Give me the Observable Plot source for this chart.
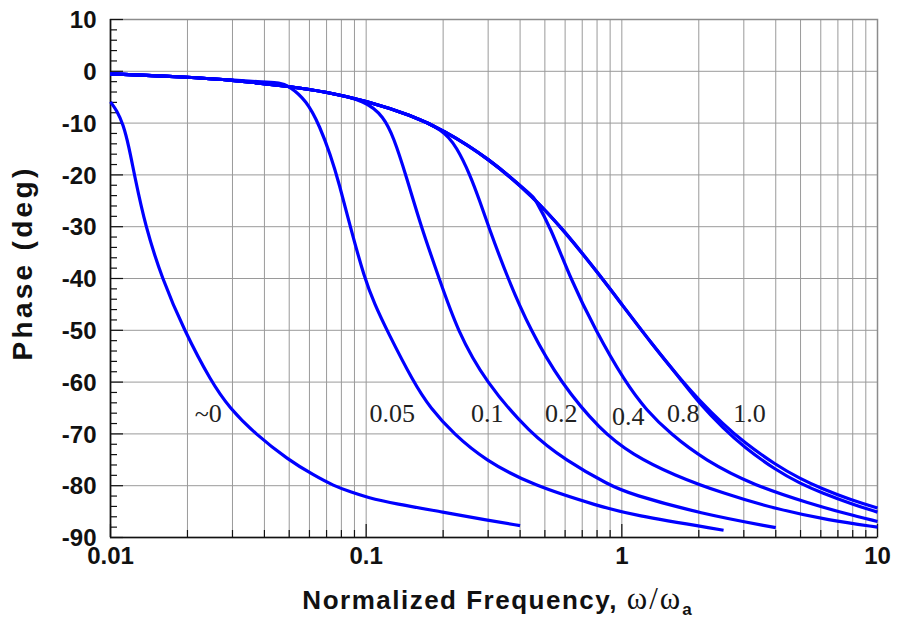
<!DOCTYPE html>
<html>
<head>
<meta charset="utf-8">
<script src="https://cdn.jsdelivr.net/npm/d3@7"></script>
<script src="https://cdn.jsdelivr.net/npm/@observablehq/plot@0.6"></script>
<style>
  html, body { margin: 0; padding: 0; background: #ffffff; }
  #chart { width: 898px; height: 620px; }
</style>
</head>
<body>
<div id="chart"></div>
<script>
// Phase response versus normalized frequency ω/ωa, one curve per parameter value.

// Axis tick values
const xTickValues = [0.01, 0.1, 1, 10];
const xTickLabels = ["0.01", "0.1", "1", "10"];
const yTickValues = [10, 0, -10, -20, -30, -40, -50, -60, -70, -80, -90];

// Common upper curve (parameter 1.0)
const envelopeFreq  = [0.01, 0.02, 0.03, 0.05, 0.07, 0.1, 0.15, 0.2, 0.3, 0.45, 0.6, 0.8, 1.0, 1.3, 1.7, 2.0, 2.5, 3, 4, 5, 6, 8, 10];
const envelopePhase = [-0.5, -1.1, -1.7, -2.9, -4.0, -5.7, -8.5, -11.3, -16.7, -24.2, -31.0, -38.7, -45.0, -52.4, -59.5, -63.4, -68.2, -71.6, -76.0, -78.7, -80.5, -82.9, -84.3];

// Parameter ~0
const c0Freq  = [0.01, 0.0106, 0.0112, 0.0118, 0.0124, 0.0137, 0.0159, 0.0194, 0.0248, 0.0292, 0.0368, 0.0496, 0.0625, 0.0745, 0.088, 0.1, 0.13, 0.2, 0.3, 0.4];
const c0Phase = [-5.9, -7.6, -10.2, -14.5, -20, -30, -40, -50, -60, -65, -70, -75, -78, -80, -81.3, -82.2, -83.5, -85.1, -86.7, -87.7];

// Parameter 0.05 (branch after leaving the upper curve)
const c005Freq  = [0.04, 0.046, 0.0495, 0.0585, 0.0661, 0.0723, 0.0785, 0.0866, 0.0986, 0.108, 0.1205, 0.153, 0.178, 0.22, 0.29, 0.45, 0.824, 1.08, 2.5];
const c005Phase = [-2.1, -2.2, -2.7, -5.6, -10.8, -16, -21.7, -30, -40, -45, -50, -60, -65, -70, -75, -80, -84, -85.6, -88.6];

// Parameter 0.1
const c01Freq  = [0.1, 0.117, 0.128, 0.143, 0.164, 0.193, 0.227, 0.293, 0.44, 0.6, 0.9, 1.08, 2.03, 4.0];
const c01Phase = [-5.7, -8.8, -12.7, -20, -30, -40, -50, -60, -70, -75, -80, -81.6, -85.4, -88.1];

// Parameter 0.2
const c02Freq  = [0.2, 0.226, 0.255, 0.278, 0.301, 0.358, 0.439, 0.574, 0.824, 1.1, 1.6, 2.5, 4.0, 6.5, 10];
const c02Phase = [-11.3, -14.6, -20, -25, -30, -40, -50, -60, -69.3, -74, -78, -81.5, -84.5, -86.7, -88.0];

// Parameter 0.4
const c04Freq  = [0.454, 0.525, 0.629, 0.788, 1.03, 1.25, 1.55, 2.1, 3.3, 5.5, 7.5, 10];
const c04Phase = [-24.4, -30, -40, -50, -60, -65.5, -70, -75, -80, -83.5, -85.4, -86.9];

// Parameter 0.8
const c08Freq  = [1.7, 2.0, 2.5, 3, 4, 5, 6, 8, 10];
const c08Phase = [-59.5, -64.0, -69.0, -72.5, -77.0, -79.6, -81.3, -83.6, -85.1];

// Curve labels
const labelText  = ["~0", "0.05", "0.1", "0.2", "0.4", "0.8", "1.0"];
const labelFreq  = [0.0241, 0.1264, 0.2976, 0.58, 1.06, 1.74, 3.16];
const labelPhase = [-66, -66, -66, -66, -66.6, -66, -66];

// One table of points; each branch is joined to the upper curve below its start
function branch(name, freq, phase, joinEnvelope) {
  const rows = [];
  if (joinEnvelope) {
    envelopeFreq.forEach((f, i) => { if (f < freq[0]) rows.push({curve: name, freq: f, phase: envelopePhase[i]}); });
  }
  freq.forEach((f, i) => rows.push({curve: name, freq: f, phase: phase[i]}));
  return rows;
}
const rows = [
  ...branch("~0", c0Freq, c0Phase, false),
  ...branch("0.05", c005Freq, c005Phase, true),
  ...branch("0.1", c01Freq, c01Phase, true),
  ...branch("0.2", c02Freq, c02Phase, true),
  ...branch("0.4", c04Freq, c04Phase, true),
  ...branch("0.8", c08Freq, c08Phase, true),
  ...branch("1.0", envelopeFreq, envelopePhase, false)
];
const labels = labelText.map((t, i) => ({text: t, freq: labelFreq[i], phase: labelPhase[i]}));

// Grid positions: 1..9 in every decade
const decades = [0.01, 0.1, 1];
const gridFreq = decades.flatMap(d => d3.range(1, 10).map(m => +(m * d).toPrecision(3))).concat([10]);
const majorFreq = xTickValues;
const minorFreq = gridFreq.filter(f => !majorFreq.includes(f));
const gridPhase = yTickValues;
const minorPhase = d3.range(-90, 11, 2).filter(v => v % 10 !== 0);

const W = 898, H = 620;
const mL = 110, mR = 21, mT = 19, mB = 83;
const innerW = W - mL - mR, innerH = H - mT - mB;
const sans = "'Liberation Sans', Arial, Helvetica, sans-serif";
const serif = "'Liberation Serif', 'Times New Roman', serif";

const chart = Plot.plot({
  width: W,
  height: H,
  marginLeft: mL,
  marginRight: mR,
  marginTop: mT,
  marginBottom: mB,
  style: {fontFamily: sans, background: "#ffffff", overflow: "visible"},
  x: {type: "log", domain: [0.01, 10], axis: null},
  y: {domain: [-90, 10], axis: null},
  marks: [
    Plot.ruleX(gridFreq, {x: d => d, stroke: "#9a9a9a", strokeWidth: 1}),
    Plot.ruleY(gridPhase, {y: d => d, stroke: "#9a9a9a", strokeWidth: 1}),
    Plot.frame({stroke: "#8c8c8c", strokeWidth: 1.5}),
    // inward ticks
    Plot.tickY(minorPhase, {y: d => d, stroke: "#111", strokeWidth: 1.2, insetRight: innerW - 7}),
    Plot.tickY(gridPhase, {y: d => d, stroke: "#111", strokeWidth: 1.2, insetRight: innerW - 13}),
    Plot.tickX(minorFreq, {x: d => d, stroke: "#111", strokeWidth: 1.2, insetTop: innerH - 7}),
    Plot.tickX(majorFreq, {x: d => d, stroke: "#111", strokeWidth: 1.2, insetTop: innerH - 13}),
    // left and bottom axis lines
    Plot.ruleX([0.01], {x: d => d, stroke: "#111", strokeWidth: 1.6}),
    Plot.ruleY([-90], {y: d => d, stroke: "#111", strokeWidth: 1.6}),
    // tick labels
    Plot.text(yTickValues, {y: d => d, text: d => String(d), frameAnchor: "left", textAnchor: "end", dx: -14, dy: 1,
      fontSize: 24, fontWeight: "bold", fill: "#111"}),
    Plot.text(xTickValues, {x: d => d, text: (d, i) => xTickLabels[i], frameAnchor: "bottom", dy: 26,
      fontSize: 24, fontWeight: "bold", fill: "#111"}),
    // curves
    Plot.line(rows, {x: "freq", y: "phase", z: "curve", stroke: "#0000ff", strokeWidth: 3.2, curve: "basis",
      strokeLinejoin: "round", strokeLinecap: "butt"}),
    // curve labels
    Plot.text(labels, {x: "freq", y: "phase", text: "text", fontFamily: serif, fontSize: 26, fill: "#222"})
  ]
});

document.getElementById("chart").appendChild(chart);
const svg = d3.select(chart);

// y axis title
svg.append("text")
  .attr("transform", "translate(22,263) rotate(-90)")
  .attr("text-anchor", "middle")
  .attr("dominant-baseline", "central")
  .attr("font-family", sans).attr("font-weight", "bold").attr("font-size", 28)
  .attr("letter-spacing", 3.3)
  .attr("fill", "#111")
  .text("Phase (deg)");

// x axis title with a serif ω/ωa and subscript
const title = svg.append("text")
  .attr("x", 497).attr("y", 609)
  .attr("text-anchor", "middle")
  .attr("fill", "#111");
title.append("tspan").text("Normalized Frequency, ")
  .attr("font-family", sans).attr("font-weight", "bold").attr("font-size", 26)
  .attr("letter-spacing", 1.5);
title.append("tspan").text("ω/ω")
  .attr("font-family", serif).attr("font-size", 31).attr("letter-spacing", 2);
title.append("tspan").text("a")
  .attr("font-family", sans).attr("font-weight", "bold").attr("font-size", 17).attr("dy", 6);
</script>
</body>
</html>
